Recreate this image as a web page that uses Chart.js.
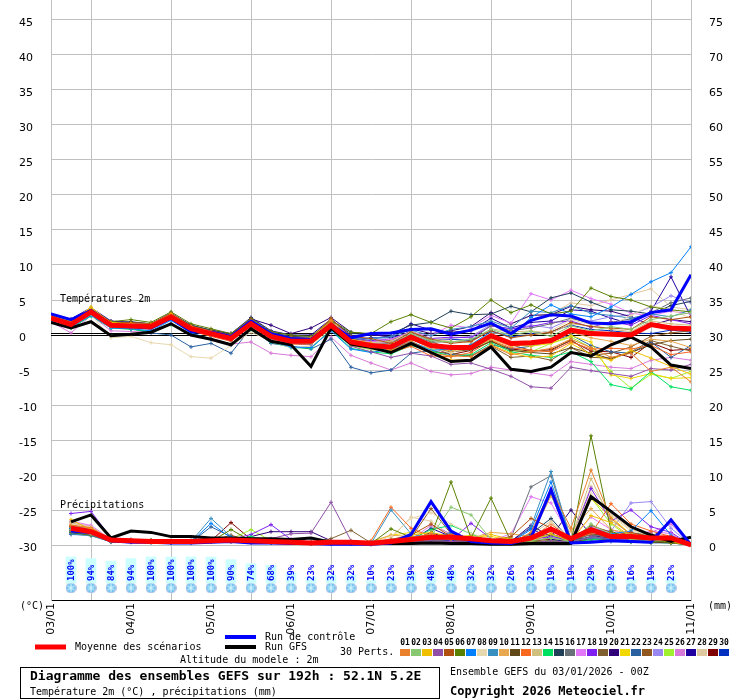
<!DOCTYPE html>
<html><head><meta charset="utf-8">
<script src="https://cdn.jsdelivr.net/npm/chart.js@4.4.1/dist/chart.umd.min.js"></script>
<style>html,body{margin:0;padding:0;background:#fff;}canvas{display:block;}</style>
</head><body>
<canvas id="c" width="740" height="700"></canvas>
<script>
// ---------- DATA ----------
const dateLabels = ['03/01','04/01','05/01','06/01','07/01','08/01','09/01','10/01','11/01'];
const dateHours = [0,24,48,72,96,120,144,168,192];
const tempTicks = [-30,-25,-20,-15,-10,-5,0,5,10,15,20,25,30,35,40,45];
const precipTicks = [0,5,10,15,20,25,30,35,40,45,50,55,60,65,70,75];
const hoursT = [0,6,12,18,24,30,36,42,48,54,60,66,72,78,84,90,96,102,108,114,120,126,132,138,144,150,156,162,168,174,180,186,192];
const hoursP = [6,12,18,24,30,36,42,48,54,60,66,72,78,84,90,96,102,108,114,120,126,132,138,144,150,156,162,168,174,180,186,192];
const snowHours = [6,12,18,24,30,36,42,48,54,60,66,72,78,84,90,96,102,108,114,120,126,132,138,144,150,156,162,168,174,180,186];
const snowPct = [100,94,84,94,100,100,100,100,90,74,68,39,23,32,32,10,23,39,48,48,32,32,26,23,19,19,29,29,16,19,23];

const memberNames = ['01','02','03','04','05','06','07','08','09','10','11','12','13','14','15','16','17','18','19','20','21','22','23','24','25','26','27','28','29','30'];
const memberColors = ['#e8802c','#88c870','#f0c000','#9050a8','#b05010','#5a8000','#0080ff','#e8d8b0','#3890c0','#e8a850','#604818','#f86820','#d0c080','#00e060','#204058','#687078','#e078f8','#8020f0','#806030','#300078','#f0d800','#2860a0','#905820','#9888f0','#a0f030','#d878d8','#2000a0','#e0c8a0','#800000','#0030c0'];

const meanT = [2.4,1.5,3.3,1.4,1.3,1.2,2.6,0.9,0.2,-0.5,1.6,-0.2,-0.9,-0.9,1.4,-1.0,-1.5,-1.7,-0.3,-1.5,-1.8,-1.8,-0.1,-1.2,-1.1,-0.8,0.7,0.2,0.1,0.0,1.5,1.0,0.9];
const ctrlT = [3.0,2.2,3.5,1.5,1.2,1.0,2.4,0.5,0.4,-0.2,2.0,0.2,-0.5,-0.6,1.5,-0.4,0.2,0.3,0.8,0.9,0.1,0.7,1.7,0.2,2.1,2.9,2.7,1.7,1.6,1.9,3.2,3.6,8.6];
const gfsT = [1.8,1.0,1.9,-0.1,0.1,0.4,1.6,0.0,-0.6,-1.4,0.9,-0.9,-1.4,-4.5,1.0,-1.3,-1.8,-2.5,-1.2,-2.5,-3.8,-3.6,-1.7,-4.9,-5.2,-4.6,-2.5,-3.0,-1.4,-0.3,-1.7,-4.3,-4.8];

const t01 = [2.6,1.6,3.5,1.6,1.5,1.0,2.8,1.1,0.4,-0.3,1.8,0.0,-0.6,-0.7,2.0,-0.8,-1.2,-2.3,-0.8,-2.6,-3.0,-3.1,-1.5,-2.8,-2.4,-1.9,-0.6,-1.8,-3.2,-2.6,-5.2,-4.6,-6.7];
const t02 = [2.2,1.3,3.0,1.2,1.4,1.3,2.4,0.8,0.1,-0.6,1.2,-0.4,-1.1,-1.2,1.0,-1.4,-1.8,-1.5,0.2,-0.8,-1.0,-0.6,0.8,0.0,0.5,-0.2,1.3,0.6,1.2,0.8,2.2,2.7,3.2];
const t03 = [2.8,2.0,3.9,1.8,1.6,1.5,3.0,1.2,0.5,-0.2,2.0,0.1,-0.5,-0.4,2.0,-0.6,-1.2,-2.2,-1.2,-2.4,-3.6,-3.5,-1.4,-2.6,-3.2,-3.0,-1.2,-2.8,-3.6,-2.2,-3.3,-4.5,-5.6];
const t04 = [2.3,1.4,3.1,1.3,1.1,1.0,2.4,0.7,0.0,-0.7,1.3,-0.5,-1.2,-1.3,1.1,-1.6,-2.4,-3.2,-2.6,-3.0,-4.2,-4.0,-4.9,-5.9,-7.4,-7.6,-4.6,-5.1,-5.5,-5.9,-4.8,-5.0,-4.2];
const t05 = [2.5,1.8,3.4,1.7,1.8,1.6,3.1,1.3,0.6,0.0,2.2,0.3,-0.3,-0.4,2.3,-0.2,-0.5,-1.2,0.4,-0.6,-1.2,-0.9,0.6,-0.4,0.0,0.4,1.8,1.2,1.0,0.8,2.6,2.2,2.6];
const t06 = [2.6,1.9,3.6,1.9,2.2,1.8,3.3,1.6,0.9,0.2,2.4,0.5,0.0,-0.2,2.1,0.4,0.2,1.9,2.9,1.8,1.0,2.6,5.0,3.2,4.3,3.0,3.4,6.7,5.5,5.0,4.0,3.6,3.3];
const t07 = [2.0,1.1,2.8,1.0,0.9,0.6,2.1,0.3,-0.6,-1.4,0.9,-0.9,-1.7,-1.8,0.6,-2.0,-2.5,-2.0,-0.9,-2.2,-2.0,-1.4,0.5,-0.2,2.5,4.3,3.0,2.6,4.0,5.8,7.6,8.9,12.6];
const t08 = [2.0,1.2,2.9,-0.4,-0.2,-1.1,-1.4,-3.1,-3.3,-1.5,0.4,-0.9,-1.8,-1.6,0.8,-1.4,-2.0,-1.2,-0.4,-1.8,-2.6,-1.3,0.3,0.1,0.0,0.6,2.2,1.5,1.4,2.8,4.2,3.6,2.4];
const t09 = [2.7,2.1,3.6,1.6,1.6,1.4,2.9,1.0,0.4,-0.1,2.2,0.2,-0.4,-0.5,1.8,-0.5,-0.6,-0.2,0.7,-0.1,0.8,1.2,2.0,1.0,3.4,3.2,4.2,3.1,2.8,2.4,3.0,2.6,3.6];
const t10 = [2.5,1.6,3.8,1.3,1.2,1.3,2.7,1.0,0.3,-0.4,1.9,-0.1,-0.8,-0.6,2.4,-0.9,-1.4,-2.0,-1.1,-1.9,-2.3,-2.0,-0.6,-1.6,-1.4,-1.1,0.4,-0.4,-0.9,-1.5,-0.6,-0.9,-1.8];
const t11 = [2.4,1.5,3.2,1.5,1.4,1.3,2.5,0.9,0.1,-0.6,1.5,-0.3,-1.0,-1.0,1.3,-1.3,-1.6,-1.9,-0.6,-1.8,-2.4,-2.1,-0.9,-2.2,-2.5,-2.7,-1.8,-2.6,-3.4,-2.5,-1.4,-0.8,-0.6];
const t12 = [2.3,1.4,3.4,1.3,1.0,0.8,2.3,0.6,-0.2,-0.9,1.4,-0.6,-1.3,-1.4,1.2,-1.5,-1.9,-2.5,-1.6,-3.0,-3.1,-2.5,-0.8,-1.8,-2.2,-2.4,-1.0,-2.0,-1.9,-2.0,-1.5,-2.8,-2.4];
const t13 = [2.2,1.4,3.2,1.6,1.5,1.4,2.8,1.0,0.4,-0.2,1.6,0.0,-0.7,-0.8,1.9,-0.8,-1.1,-0.9,0.5,-0.6,-0.9,-1.1,0.9,0.4,0.6,0.2,1.6,1.3,0.8,0.5,2.0,1.6,1.4];
const t14 = [2.1,1.0,2.7,1.0,0.8,0.5,1.5,0.1,-0.6,-1.3,0.7,-1.0,-1.8,-1.9,0.8,-1.9,-2.4,-2.7,-1.5,-2.3,-3.0,-2.8,-1.1,-2.4,-2.9,-3.2,-2.4,-3.8,-7.1,-7.7,-5.2,-7.4,-7.9];
const t15 = [2.6,1.9,3.5,1.7,1.9,1.6,3.0,1.4,0.7,0.1,2.1,0.4,-0.2,-0.3,2.0,0.2,0.1,0.2,1.4,1.8,3.4,2.9,3.0,4.1,3.3,5.3,6.0,4.7,3.6,3.4,3.0,4.2,4.8];
const t16 = [2.5,1.7,3.3,1.4,1.3,1.1,2.6,0.8,0.2,-0.5,1.6,-0.2,-0.9,-1.0,1.3,-1.0,-1.4,-1.2,0.0,-1.0,-1.0,-0.8,1.4,0.6,1.0,1.6,2.4,1.6,1.8,2.3,3.2,4.6,5.3];
const t17 = [2.4,1.6,3.6,1.7,1.5,1.6,3.0,1.1,0.5,-0.1,2.0,0.1,-0.6,-0.7,1.9,-0.7,-1.0,-0.6,0.4,-0.1,1.4,1.0,2.8,1.7,5.9,5.0,6.4,5.2,4.4,3.1,2.8,3.4,3.0];
const t18 = [2.7,1.9,3.7,1.8,1.7,1.5,3.2,1.2,0.6,-0.1,2.3,0.3,-0.4,-0.5,2.2,-0.4,-0.8,-0.6,0.5,-0.5,-0.3,-0.4,1.3,0.9,1.2,1.8,2.0,1.1,1.9,1.4,2.8,2.2,1.6];
const t19 = [2.3,1.3,3.1,1.2,1.1,1.0,2.3,0.7,0.0,-0.7,1.4,-0.4,-1.1,-1.1,1.1,-1.3,-1.8,-2.1,-0.9,-2.4,-2.6,-3.0,-1.6,-3.2,-3.0,-3.6,-1.8,-3.2,-3.3,-2.4,-0.8,-1.6,-2.3];
const t20 = [2.8,2.1,3.8,1.9,1.8,1.6,3.1,1.4,0.6,0.0,2.3,1.4,0.2,1.0,2.5,0.4,0.1,-0.3,0.9,0.2,0.6,1.2,3.2,1.6,2.8,2.9,4.1,3.6,3.4,2.6,1.4,2.2,1.9];
const t21 = [2.6,1.8,4.0,1.6,1.5,1.4,2.9,1.1,0.4,-0.3,2.0,0.0,-0.7,-0.7,1.7,-0.9,-1.3,-1.6,-0.4,-1.4,-1.7,-1.8,-0.4,-1.4,-1.6,-1.2,-0.1,-1.0,-5.7,-6.2,-5.5,-6.2,-6.1];
const t22 = [2.1,1.2,2.9,1.1,0.9,0.3,0.0,-1.7,-1.2,-2.6,1.0,-1.2,-1.6,-2.0,-0.6,-4.6,-5.4,-5.0,-2.6,-2.2,-2.8,-3.0,-1.4,-2.0,-1.6,-0.9,0.0,-1.5,-2.4,-2.6,-1.0,-3.2,-1.5];
const t23 = [2.4,1.6,3.3,1.5,1.6,1.5,2.8,1.2,0.5,-0.2,1.8,0.1,-0.6,-0.5,1.7,-0.6,-0.9,-0.8,0.6,-0.9,-2.1,-1.5,0.2,-1.4,-2.2,-2.3,-0.6,-2.9,-2.6,-1.7,-0.2,0.3,0.6];
const t24 = [2.5,1.7,3.4,1.5,1.4,1.2,2.7,1.0,0.3,-0.3,1.7,0.0,-0.7,-0.8,1.5,-0.8,-1.2,-1.0,0.3,-0.9,-0.5,-0.2,1.5,0.8,1.4,1.0,2.3,2.0,2.6,2.9,4.0,5.6,4.6];
const t25 = [2.2,1.3,3.1,1.3,1.2,1.0,2.5,0.8,0.1,-0.7,1.3,-0.4,-1.2,-1.3,1.0,-1.5,-2.1,-2.3,-1.3,-2.0,-2.2,-2.0,-0.7,-2.2,-2.4,-1.2,-0.3,-1.8,-5.2,-7.6,-5.6,-6.2,-5.2];
const t26 = [1.9,0.3,2.8,0.6,0.5,0.4,1.7,0.1,-0.5,-1.3,-1.0,-2.6,-2.9,-3.1,-0.3,-2.9,-4.0,-5.0,-4.0,-5.2,-5.7,-5.5,-4.6,-5.0,-5.4,-5.8,-3.8,-4.2,-4.6,-4.8,-3.6,-3.2,-3.6];
const t27 = [2.9,2.3,3.9,2.0,1.8,1.5,3.0,1.3,0.7,0.2,2.5,0.6,0.0,0.0,2.3,-0.1,0.0,-0.2,1.6,0.7,0.4,0.6,2.4,1.0,1.8,2.0,3.6,3.4,2.4,1.6,3.4,8.3,2.6];
const t28 = [2.3,1.5,3.2,1.4,1.2,1.1,2.5,0.8,0.2,-0.5,1.5,-0.3,-1.0,-1.0,1.4,-1.1,-1.4,-1.1,0.1,-0.7,-0.4,-0.2,1.2,1.6,2.8,3.0,4.6,4.2,5.0,5.8,6.6,4.0,3.6];
const t29 = [2.4,1.5,3.3,1.3,1.2,1.1,2.5,0.8,0.1,-0.6,1.6,-0.3,-0.9,-1.1,1.3,-1.2,-1.6,-1.8,-0.5,-1.7,-2.8,-2.2,-0.9,-2.0,-2.3,-2.1,-0.8,-2.3,-2.4,-3.2,-1.1,-2.2,-2.0];
const t30 = [2.7,2.0,3.5,1.6,1.5,1.3,2.8,1.0,0.3,-0.4,1.8,0.1,-0.6,-0.7,1.6,-0.7,-0.4,-0.4,0.4,-0.7,-0.6,-0.8,0.6,-0.3,0.2,0.5,1.4,0.8,0.6,0.3,0.2,0.7,0.4];

const meanP = [2.4,1.9,0.7,0.6,0.5,0.5,0.5,0.6,0.7,0.6,0.5,0.4,0.3,0.4,0.4,0.25,0.5,0.8,1.1,1.1,0.9,0.6,0.5,1.0,2.3,0.9,2.2,1.2,1.2,1.0,1.0,0.0];
const ctrlP = [2.0,1.8,0.6,0.4,0.4,0.3,0.3,0.4,0.5,0.3,0.3,0.2,0.2,0.1,0.1,0.1,0.3,1.5,6.2,2.0,0.5,0.3,0.2,1.0,7.9,0.3,0.4,0.6,0.5,0.4,3.6,0.0];
const gfsP = [3.3,4.3,1.0,2.0,1.8,1.2,1.2,1.0,1.0,0.9,0.9,0.8,1.0,0.4,0.3,0.3,0.2,0.2,0.3,0.2,0.2,0.1,0.1,0.2,0.2,0.2,6.9,4.8,2.6,1.4,0.5,1.1];

const p01 = [2.8,2.5,0.8,0.6,0.5,0.4,0.4,0.5,0.6,0.5,0.4,0.3,0.2,0.3,0.3,0.2,0.6,1.0,1.6,0.8,1.2,0.4,0.3,1.8,8.0,2.4,10.7,3.8,1.4,1.0,1.2,0.0];
const p02 = [2.2,1.6,0.5,0.6,0.4,0.5,0.6,0.5,0.8,0.6,0.4,0.3,0.2,0.2,0.5,0.3,0.4,0.6,1.2,5.4,4.3,0.8,0.4,0.6,1.0,0.5,3.0,1.5,0.8,0.6,0.7,0.0];
const p03 = [3.6,2.2,0.9,0.7,0.6,0.5,0.5,0.4,0.6,0.5,0.5,0.3,0.3,0.4,0.3,0.2,0.5,1.4,1.8,1.2,0.9,1.5,0.8,0.6,1.6,0.5,4.2,3.2,1.2,1.0,0.4,0.0];
const p04 = [2.0,1.5,0.5,0.5,0.4,0.5,0.4,0.6,0.6,0.8,0.9,1.6,1.7,6.1,0.6,0.4,0.3,0.5,0.6,0.5,0.4,0.4,0.2,0.3,0.6,0.4,1.2,0.9,0.7,1.4,0.8,0.0];
const p05 = [2.6,2.0,0.7,0.7,0.6,0.5,0.5,0.6,0.7,0.5,0.4,0.4,0.3,0.3,0.4,0.4,0.8,1.4,3.0,1.2,0.8,0.7,1.2,3.8,2.4,0.6,1.8,1.4,1.8,1.1,0.9,0.0];
const p06 = [1.8,1.4,0.6,0.6,0.7,0.5,0.4,0.5,2.2,0.6,0.5,0.4,0.3,0.2,0.2,0.2,2.3,1.1,1.3,9.0,1.0,6.7,0.5,0.4,0.6,0.3,15.6,2.0,0.8,0.6,0.5,0.0];
const p07 = [2.4,1.9,0.6,0.4,0.4,0.3,0.4,3.1,1.0,0.5,0.3,0.3,0.2,0.2,0.2,0.1,0.6,0.9,1.2,1.0,0.6,0.5,0.4,2.2,9.0,0.6,2.4,1.6,2.0,4.9,1.4,0.0];
const p08 = [3.0,2.6,0.8,0.7,0.6,0.6,0.5,0.5,0.5,0.4,0.4,0.4,0.3,0.3,0.3,0.3,1.2,3.8,4.6,3.0,1.6,0.9,0.6,0.8,3.2,1.0,7.4,4.2,2.0,1.4,0.8,0.0];
const p09 = [1.6,1.3,0.5,0.5,0.4,0.4,0.5,3.8,1.2,0.6,0.5,0.4,0.3,0.2,0.2,0.2,5.0,1.6,0.9,1.8,0.6,0.4,0.3,2.6,10.5,0.6,1.0,0.8,0.9,0.7,0.6,0.0];
const p10 = [2.5,2.1,0.7,0.6,0.5,0.5,0.5,0.5,0.6,0.5,0.4,0.3,0.3,0.3,0.6,0.5,1.4,1.2,1.0,0.9,1.0,1.8,1.6,1.2,7.0,2.0,5.2,2.2,1.6,1.3,1.0,0.0];
const p11 = [2.1,1.7,0.6,0.5,0.5,0.4,0.4,0.5,0.5,0.4,0.3,0.3,0.2,0.2,0.2,0.2,0.3,0.4,0.6,0.5,0.4,0.3,0.2,0.4,0.6,0.3,1.0,0.7,0.5,0.4,0.3,0.0];
const p12 = [2.9,2.4,0.8,0.7,0.5,0.5,0.6,0.6,0.7,0.5,0.4,0.3,0.3,0.3,0.3,0.6,5.4,2.4,1.2,1.5,0.9,0.6,0.5,1.0,3.0,0.8,1.6,5.9,3.0,2.0,1.2,0.0];
const p13 = [3.2,2.3,0.9,0.8,0.6,0.5,0.5,0.6,0.7,0.5,0.5,0.4,0.3,0.4,0.4,0.3,0.7,1.0,1.4,1.2,0.8,0.6,0.5,0.8,2.0,0.9,9.5,3.5,1.6,1.2,1.0,0.0];
const p14 = [1.9,1.6,0.5,0.5,0.4,0.4,0.4,0.5,0.7,1.2,0.6,0.4,0.3,0.2,0.3,0.2,0.4,0.8,2.2,2.8,1.6,0.5,0.4,0.3,0.6,0.4,0.8,0.7,0.5,0.4,0.3,0.0];
const p15 = [2.3,1.9,0.6,0.6,0.5,0.4,0.4,0.6,0.6,0.4,0.4,0.3,0.3,0.3,0.3,0.2,0.6,0.9,1.4,1.0,0.5,0.4,0.4,1.6,3.8,0.6,1.2,1.0,1.6,1.4,0.9,0.0];
const p16 = [2.7,2.2,0.7,0.6,0.5,0.5,0.5,0.5,0.6,0.5,0.4,0.4,0.5,0.4,0.3,0.5,0.6,0.9,1.0,0.8,0.6,0.5,1.0,8.3,9.9,0.8,1.4,1.2,1.7,1.6,0.8,0.0];
const p17 = [3.4,2.8,0.8,0.6,0.5,0.5,0.6,0.6,0.7,0.6,0.5,0.4,0.3,0.4,0.4,0.3,0.6,1.0,1.2,0.8,0.7,0.6,1.6,6.9,6.0,1.0,4.0,2.2,1.2,2.0,1.6,0.0];
const p18 = [4.5,4.8,1.0,0.8,0.7,0.6,0.6,0.7,0.8,1.5,2.9,0.8,0.4,0.5,0.4,0.3,0.4,0.6,0.9,0.7,3.1,0.9,0.6,0.8,1.2,0.7,8.1,3.4,5.0,2.6,1.8,0.0];
const p19 = [2.4,1.8,0.6,0.6,0.5,0.4,0.5,0.5,0.6,0.5,0.4,0.3,0.3,0.9,2.1,0.3,0.5,0.7,0.9,0.8,0.6,0.5,0.4,0.6,1.0,0.5,1.6,1.0,0.8,0.6,0.5,0.0];
const p20 = [2.2,1.6,0.5,0.5,0.5,0.4,0.5,0.6,0.7,1.2,1.9,1.9,1.9,0.6,0.4,0.3,0.4,0.6,1.8,0.7,0.8,0.6,0.5,2.8,1.2,5.0,1.4,0.9,0.8,0.7,0.5,0.0];
const p21 = [3.0,2.4,0.8,0.7,0.6,0.5,0.5,0.6,0.6,0.5,0.4,0.4,0.3,0.3,0.3,0.4,1.4,1.8,1.6,1.0,1.4,1.2,0.8,1.0,2.4,0.6,6.6,4.0,1.5,1.1,0.8,0.0];
const p22 = [1.5,1.4,0.4,0.4,0.4,0.3,0.4,2.6,1.2,0.5,0.4,0.3,0.2,0.2,0.2,0.1,0.3,0.5,0.6,0.5,0.4,0.3,0.3,1.4,7.2,0.4,0.6,0.5,0.4,0.3,0.3,0.0];
const p23 = [2.6,2.0,0.7,0.6,0.6,0.5,0.5,0.6,1.4,0.5,0.4,0.4,0.3,0.3,0.3,0.3,0.7,1.0,5.2,1.6,0.9,0.6,0.5,1.0,1.6,0.6,2.8,1.8,1.1,0.9,0.7,0.0];
const p24 = [2.8,2.3,0.7,0.6,0.5,0.5,0.5,0.6,0.7,0.6,0.5,0.4,0.3,0.3,0.3,0.3,0.5,0.8,1.2,1.0,0.8,0.6,0.5,0.8,1.6,0.7,2.4,2.0,6.0,6.2,2.4,0.0];
const p25 = [2.1,1.7,0.6,0.6,0.5,0.5,0.6,0.6,0.8,2.2,0.6,0.4,0.3,0.3,0.3,0.3,0.5,0.9,1.6,1.3,0.9,0.7,0.6,0.8,1.4,0.6,6.8,3.0,1.0,0.7,0.5,0.0];
const p26 = [3.1,2.6,0.8,0.7,0.6,0.5,0.5,0.6,0.6,0.5,0.5,0.4,0.3,0.4,0.3,0.3,0.6,0.8,2.8,1.6,1.0,0.7,0.6,1.2,2.0,0.6,2.6,1.6,1.2,1.8,3.0,0.0];
const p27 = [1.7,1.5,0.5,0.5,0.4,0.4,0.4,0.5,0.5,0.4,0.4,0.3,0.2,0.2,0.2,0.2,0.4,0.6,2.4,1.2,0.6,0.5,0.6,2.4,0.8,0.4,0.8,1.0,0.9,1.0,3.4,0.0];
const p28 = [3.3,2.7,0.8,0.7,0.6,0.6,0.6,0.6,0.7,0.6,0.5,0.4,0.4,0.4,0.4,0.3,0.9,4.0,3.4,1.4,1.0,0.7,0.6,1.4,3.4,0.8,8.4,4.4,2.2,1.6,1.2,0.0];
const p29 = [2.5,1.9,0.6,0.6,0.5,0.5,0.6,0.6,3.2,0.8,0.4,0.3,0.3,0.3,0.3,0.2,0.5,0.7,1.0,0.8,0.6,0.5,0.4,0.6,0.8,0.5,1.6,1.2,0.9,0.8,0.6,0.0];
const p30 = [1.8,1.5,0.5,0.5,0.4,0.4,0.4,0.5,0.5,0.4,0.4,0.3,0.2,0.2,0.2,0.2,0.4,0.6,0.8,0.6,0.5,0.4,0.4,0.8,1.4,0.4,1.0,0.8,0.6,0.5,0.4,0.0];

const tempMembers = [t01,t02,t03,t04,t05,t06,t07,t08,t09,t10,t11,t12,t13,t14,t15,t16,t17,t18,t19,t20,t21,t22,t23,t24,t25,t26,t27,t28,t29,t30];
const precipMembers = [p01,p02,p03,p04,p05,p06,p07,p08,p09,p10,p11,p12,p13,p14,p15,p16,p17,p18,p19,p20,p21,p22,p23,p24,p25,p26,p27,p28,p29,p30];

// ---------- CHART ----------
const MONO = '"DejaVu Sans Mono", "Liberation Mono", monospace';
const SANS = '"DejaVu Sans", sans-serif';
const GRID = '#c0c0c0';

function xy(xs, ys){ return ys.map((v,i)=>({x:xs[i], y:v})); }

function makeFlake(){
  const c = document.createElement('canvas'); c.width = 11; c.height = 11;
  const g = c.getContext('2d');
  g.fillStyle = '#9ab0e0'; g.beginPath(); g.arc(5.5,5.5,5.3,0,Math.PI*2); g.fill();
  g.fillStyle = '#6ccaf2'; g.beginPath(); g.arc(5.5,5.5,4.3,0,Math.PI*2); g.fill();
  g.strokeStyle = '#e8f8ff'; g.lineWidth = 1;
  for (let k=0;k<3;k++){
    const an = Math.PI/2 + k*Math.PI/3;
    g.beginPath();
    g.moveTo(5.5+4*Math.cos(an),5.5+4*Math.sin(an));
    g.lineTo(5.5-4*Math.cos(an),5.5-4*Math.sin(an));
    g.stroke();
  }
  return c;
}
const flake = makeFlake();
const FLAKE_LEVEL = -19;

const datasets = [];
tempMembers.forEach((arr,i)=>{
  datasets.push({type:'line', label:'T'+memberNames[i], data:xy(hoursT,arr), yAxisID:'y',
    borderColor:memberColors[i], backgroundColor:memberColors[i], borderWidth:1,
    pointStyle:'cross', pointRadius:2, pointBorderWidth:1, pointBorderColor:memberColors[i], tension:0, order:5});
});
precipMembers.forEach((arr,i)=>{
  datasets.push({type:'line', label:'P'+memberNames[i], data:xy(hoursP,arr), yAxisID:'y2',
    borderColor:memberColors[i], backgroundColor:memberColors[i], borderWidth:1,
    pointStyle:'cross', pointRadius:2, pointBorderWidth:1, pointBorderColor:memberColors[i], tension:0, order:5});
});
datasets.push({type:'line', label:'GFS T', data:xy(hoursT,gfsT), yAxisID:'y', borderColor:'#000', borderWidth:3, pointRadius:0, tension:0, order:3});
datasets.push({type:'line', label:'GFS P', data:xy(hoursP,gfsP), yAxisID:'y2', borderColor:'#000', borderWidth:3, pointRadius:0, tension:0, order:3});
datasets.push({type:'line', label:'Ctrl T', data:xy(hoursT,ctrlT), yAxisID:'y', borderColor:'#0000ff', borderWidth:3, pointRadius:0, tension:0, order:2});
datasets.push({type:'line', label:'Ctrl P', data:xy(hoursP,ctrlP), yAxisID:'y2', borderColor:'#0000ff', borderWidth:3, pointRadius:0, tension:0, order:2});
datasets.push({type:'line', label:'Mean T', data:xy(hoursT,meanT), yAxisID:'y', borderColor:'#ff0000', borderWidth:5, pointRadius:0, tension:0, order:1});
datasets.push({type:'line', label:'Mean P', data:xy(hoursP,meanP), yAxisID:'y2', borderColor:'#ff0000', borderWidth:5, pointRadius:0, tension:0, order:1});
datasets.push({type:'bar', label:'Snow', data:xy(snowHours,snowPct), yAxisID:'yS', backgroundColor:'#ccffff', borderWidth:0, barThickness:10, order:6});
datasets.push({type:'line', label:'Flakes', data:snowHours.map(h=>({x:h,y:FLAKE_LEVEL})), yAxisID:'yS', showLine:false, pointStyle:flake, pointRadius:5, order:6});

const deco = {
  id:'deco',
  beforeDatasetsDraw(chart){
    const {ctx, chartArea:a, scales} = chart;
    const y0 = Math.round(scales.y.getPixelForValue(0));
    ctx.save();
    ctx.strokeStyle = '#000'; ctx.lineWidth = 1;
    ctx.beginPath();
    ctx.moveTo(a.left, y0-1.5); ctx.lineTo(a.right, y0-1.5);
    ctx.moveTo(a.left, y0+0.5); ctx.lineTo(a.right, y0+0.5);
    ctx.stroke();
    ctx.restore();
  },
  afterDatasetsDraw(chart){
    const {ctx, scales} = chart;
    const base = scales.yS.getPixelForValue(0);
    ctx.save();
    ctx.fillStyle = '#0000ff';
    ctx.font = 'bold 9px ' + MONO;
    ctx.textAlign = 'left'; ctx.textBaseline = 'middle';
    snowHours.forEach((h,i)=>{
      const x = scales.x.getPixelForValue(h);
      ctx.save();
      ctx.translate(x, base - 2);
      ctx.rotate(-Math.PI/2);
      ctx.fillText(snowPct[i] + '%', 0, 0.5);
      ctx.restore();
    });
    ctx.fillStyle = '#000';
    ctx.font = '10px ' + MONO;
    ctx.fillText('Températures 2m', 60, 299);
    ctx.fillText('Précipitations', 60, 505);
    ctx.restore();
  },
  afterDraw(chart){
    const ctx = chart.ctx;
    ctx.save();
    ctx.fillStyle = '#000';
    ctx.textBaseline = 'middle'; ctx.textAlign = 'left';
    ctx.font = '10px ' + MONO;
    ctx.fillText('(°C)', 20, 606);
    ctx.fillText('(mm)', 708, 606);
    ctx.lineWidth = 5; ctx.strokeStyle = '#ff0000';
    ctx.beginPath(); ctx.moveTo(35,647); ctx.lineTo(66,647); ctx.stroke();
    ctx.lineWidth = 4; ctx.strokeStyle = '#0000ff';
    ctx.beginPath(); ctx.moveTo(225,637); ctx.lineTo(256,637); ctx.stroke();
    ctx.strokeStyle = '#000';
    ctx.beginPath(); ctx.moveTo(225,647); ctx.lineTo(256,647); ctx.stroke();
    ctx.fillText('Moyenne des scénarios', 75, 647);
    ctx.fillText('Run de contrôle', 265, 637);
    ctx.fillText('Run GFS', 265, 647);
    ctx.fillText('Altitude du modele : 2m', 180, 660);
    ctx.fillText('30 Perts.', 340, 652);
    ctx.font = 'bold 8px ' + MONO; ctx.textAlign = 'center';
    memberNames.forEach((n,i)=>{
      const x = 400 + i*11;
      ctx.fillStyle = '#000';
      ctx.fillText(n, x+5, 643);
      ctx.fillStyle = memberColors[i];
      ctx.fillRect(x, 649, 10, 7);
    });
    ctx.textAlign = 'left';
    ctx.strokeStyle = '#000'; ctx.lineWidth = 1;
    ctx.strokeRect(20.5, 667.5, 419, 31);
    ctx.fillStyle = '#000';
    ctx.font = 'bold 13px ' + MONO;
    ctx.fillText('Diagramme des ensembles GEFS sur 192h : 52.1N 5.2E', 30, 677);
    ctx.font = '10px ' + MONO;
    ctx.fillText('Température 2m (°C) , précipitations (mm)', 30, 692);
    ctx.fillText('Ensemble GEFS du 03/01/2026 - 00Z', 450, 672);
    ctx.font = 'bold 12px ' + MONO;
    ctx.fillText('Copyright 2026 Meteociel.fr', 450, 692);
    ctx.restore();
  }
};

new Chart(document.getElementById('c'), {
  type:'line',
  data:{ datasets },
  plugins:[deco],
  options:{
    responsive:false, animation:false, devicePixelRatio:1, events:[],
    layout:{ autoPadding:false, padding:{left:19, right:0, top:0, bottom:0} },
    plugins:{ legend:{display:false}, tooltip:{enabled:false} },
    scales:{
      x:{ type:'linear', min:0, max:192, offset:false,
        afterBuildTicks: s => { s.ticks = dateHours.map(v=>({value:v})); },
        afterFit: s => { s.height = 100; s.paddingLeft = 0; s.paddingRight = 0; },
        grid:{ color:GRID, drawTicks:false, lineWidth:1 },
        border:{ color:'#000' },
        ticks:{ autoSkip:false, maxRotation:90, minRotation:90, padding:3, color:'#000',
          font:{family:SANS, size:11},
          callback: v => { const i = dateHours.indexOf(v); return i>=0 ? dateLabels[i] : ''; } }
      },
      y:{ type:'linear', position:'left', min:-37.857, max:47.857,
        afterBuildTicks: s => { s.ticks = tempTicks.map(v=>({value:v})); },
        afterFit: s => { s.width = 32; s.paddingTop = 0; s.paddingBottom = 0; },
        grid:{ color: c => (c.tick && c.tick.value === 0) ? 'rgba(0,0,0,0)' : GRID, drawTicks:false, lineWidth:1 },
        border:{ color:GRID },
        ticks:{ crossAlign:'far', padding:0, labelOffset:3, color:'#000', font:{family:SANS, size:11} }
      },
      y2:{ type:'linear', position:'right', min:-7.857, max:77.857,
        afterBuildTicks: s => { s.ticks = precipTicks.map(v=>({value:v})); },
        afterFit: s => { s.width = 49; s.paddingTop = 0; s.paddingBottom = 0; },
        grid:{ drawOnChartArea:false, drawTicks:false },
        border:{ color:GRID },
        ticks:{ padding:18, labelOffset:3, color:'#000', font:{family:SANS, size:11} }
      },
      yS:{ type:'linear', display:false, min:-65.4, max:2242.3 }
    }
  }
});
</script>
</body></html>
